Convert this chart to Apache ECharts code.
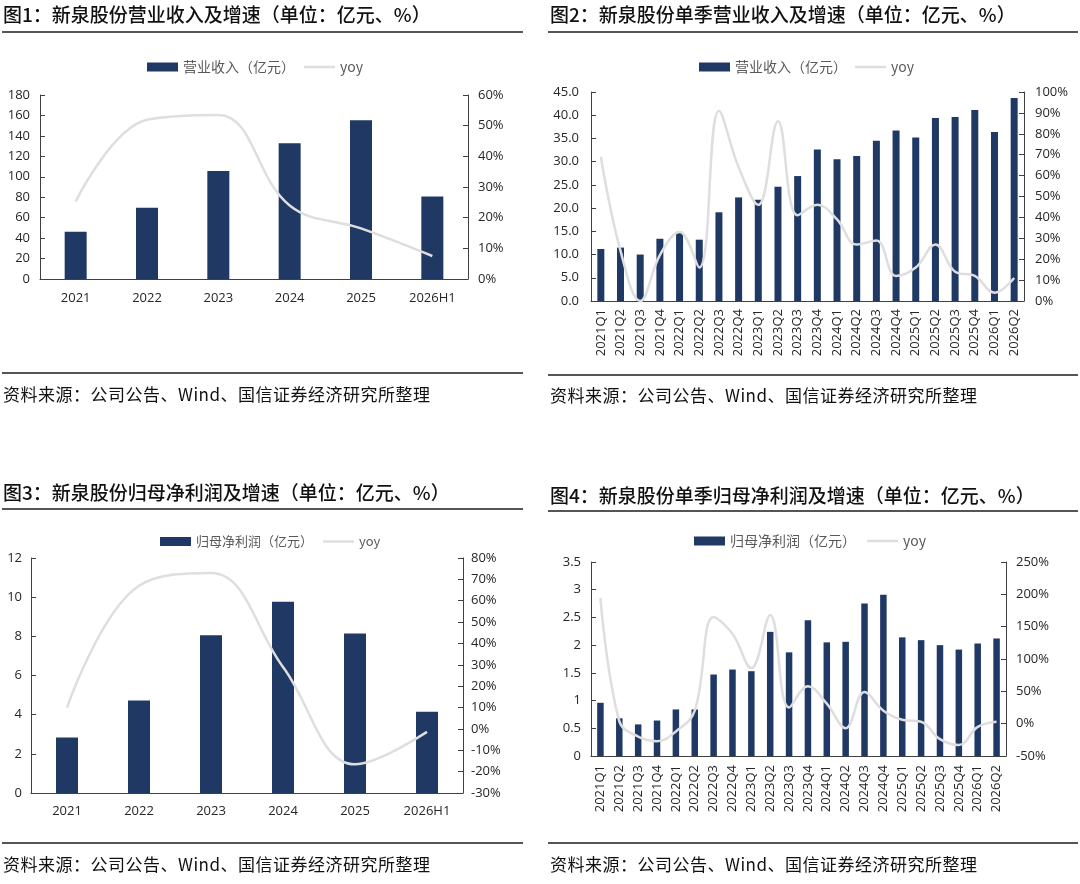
<!DOCTYPE html>
<html>
<head>
<meta charset="utf-8">
<script src="https://cdn.jsdelivr.net/npm/echarts@6/dist/echarts.min.js"></script>
<style>
  html, body { margin: 0; padding: 0; background: #fff; }
  #page { position: relative; width: 1080px; height: 884px; overflow: hidden; }
  #chart { position: absolute; left: 0; top: 0; width: 1080px; height: 884px; }
  .title { position: absolute; font-family: "Noto Sans CJK SC", sans-serif; font-size: 19px; font-weight: 500; color: #111; line-height: 22px; white-space: nowrap; }
  .source { position: absolute; font-family: "Noto Sans CJK SC", sans-serif; font-size: 17px; color: #111; letter-spacing: 0.5px; line-height: 22px; white-space: nowrap; }
  .rule { position: absolute; height: 2px; background: #555; }
</style>
</head>
<body>
<div id="page">
  <div id="chart"></div>

  <div class="title" style="left:3px; top:3px;">图1：新泉股份营业收入及增速（单位：亿元、%）</div>
  <div class="title" style="left:550px; top:3px;">图2：新泉股份单季营业收入及增速（单位：亿元、%）</div>
  <div class="rule" style="left:2px; top:31px; width:521px;"></div>
  <div class="rule" style="left:548px; top:31px; width:530px;"></div>

  <div class="rule" style="left:2px; top:372px; width:521px;"></div>
  <div class="rule" style="left:548px; top:374px; width:530px;"></div>
  <div class="source" style="left:3px; top:383px;">资料来源：公司公告、Wind、国信证券经济研究所整理</div>
  <div class="source" style="left:550px; top:384px;">资料来源：公司公告、Wind、国信证券经济研究所整理</div>

  <div class="title" style="left:3px; top:481px;">图3：新泉股份归母净利润及增速（单位：亿元、%）</div>
  <div class="title" style="left:550px; top:484px;">图4：新泉股份单季归母净利润及增速（单位：亿元、%）</div>
  <div class="rule" style="left:2px; top:508px; width:521px;"></div>
  <div class="rule" style="left:548px; top:510px; width:530px;"></div>

  <div class="rule" style="left:2px; top:842px; width:521px;"></div>
  <div class="rule" style="left:548px; top:842px; width:530px;"></div>
  <div class="source" style="left:3px; top:853px;">资料来源：公司公告、Wind、国信证券经济研究所整理</div>
  <div class="source" style="left:550px; top:853px;">资料来源：公司公告、Wind、国信证券经济研究所整理</div>
</div>

<script>
// 年度数据
const years = ['2021', '2022', '2023', '2024', '2025', '2026H1'];
const revenue = [46.2, 69.7, 105.7, 132.8, 155.2, 80.6];
const revenueYoy = [25.3, 51.9, 53.5, 24.0, 16.5, 7.5];
const profit = [2.84, 4.72, 8.06, 9.77, 8.15, 4.15];
const profitYoy = [10, 67, 73, 29, -16.6, -1.4];

// 单季数据
const quarters = ['2021Q1', '2021Q2', '2021Q3', '2021Q4', '2022Q1', '2022Q2', '2022Q3', '2022Q4',
  '2023Q1', '2023Q2', '2023Q3', '2023Q4', '2024Q1', '2024Q2', '2024Q3', '2024Q4',
  '2025Q1', '2025Q2', '2025Q3', '2025Q4', '2026Q1', '2026Q2'];
const qRevenue = [11.2, 11.5, 10.0, 13.4, 14.9, 13.2, 19.1, 22.3, 21.8, 24.6, 26.9, 32.6,
  30.5, 31.2, 34.5, 36.7, 35.2, 39.4, 39.6, 41.1, 36.4, 43.7];
const qRevenueYoy = [69, 24, 0, 22, 33, 16, 91, 64, 46, 86, 41, 46, 39, 27, 29, 12, 16, 27, 14, 12, 4, 11];
const qProfit = [0.96, 0.68, 0.57, 0.64, 0.84, 0.84, 1.47, 1.56, 1.53, 2.24, 1.87, 2.45,
  2.05, 2.06, 2.75, 2.91, 2.14, 2.09, 2.00, 1.92, 2.03, 2.12];
const qProfitYoy = [194, 4, -20, -27, -12, 20, 165, 139, 86, 168, 25, 58, 31, -7, 49, 20, 6, 3, -24, -33, -5, 3];

// 刻度
const ticks = [
  { min: 0, max: 180, interval: 20 },   // 图1 左
  { min: 0, max: 60, interval: 10 },    // 图1 右
  { min: 0, max: 45, interval: 5 },     // 图2 左
  { min: 0, max: 100, interval: 10 },   // 图2 右
  { min: 0, max: 12, interval: 2 },     // 图3 左
  { min: -30, max: 80, interval: 10 },  // 图3 右
  { min: 0, max: 3.5, interval: 0.5 },  // 图4 左
  { min: -50, max: 250, interval: 50 }  // 图4 右
];

const BAR = '#1f3864';
const LINE = '#dedede';
const AXIS = '#404040';
const FONT = 'Open Sans';

const chart = echarts.init(document.getElementById('chart'));

function xAxis(grid, data, rotate, margin) {
  return {
    type: 'category', gridIndex: grid, data: data,
    axisLine: { lineStyle: { color: AXIS, width: 1 } },
    axisTick: { show: false },
    axisLabel: { color: '#262626', fontSize: 13, fontFamily: FONT, rotate: rotate, margin: margin, interval: 0 }
  };
}

function yAxis(grid, t, pos, fmt, margin) {
  return {
    type: 'value', gridIndex: grid, position: pos,
    min: t.min, max: t.max, interval: t.interval,
    splitLine: { show: false },
    axisLine: { show: true, lineStyle: { color: AXIS, width: 1 } },
    axisTick: { show: true, inside: true, length: 5, lineStyle: { color: AXIS } },
    axisLabel: { color: '#262626', fontSize: 13, fontFamily: FONT, margin: margin, formatter: fmt }
  };
}

const pct = '{value}%';
const fixed1 = function (v) { return v.toFixed(1); };

// 柱图图例与 yoy 图例分开摆放，yoy 只画一条细线
function barLegend(left, top, name, size) {
  return {
    left: left, top: top, itemWidth: 31, itemHeight: 9,
    data: [{ name: name, icon: 'rect' }],
    textStyle: { color: '#595959', fontSize: size, fontFamily: 'Noto Sans CJK SC' }
  };
}

function yoyLegend(left, top, size) {
  return {
    left: left, top: top, itemWidth: 31, itemHeight: 2.5,
    data: [{ name: 'yoy', icon: 'rect', itemStyle: { color: LINE } }],
    textStyle: { color: '#595959', fontSize: size, fontFamily: 'Noto Sans CJK SC' }
  };
}

function bars(name, axisIdx, data, width) {
  return {
    name: name, type: 'bar', xAxisIndex: axisIdx, yAxisIndex: axisIdx * 2,
    data: data, barWidth: width, itemStyle: { color: BAR }
  };
}

function yoyLine(axisIdx, data) {
  return {
    name: 'yoy', type: 'line', xAxisIndex: axisIdx, yAxisIndex: axisIdx * 2 + 1,
    data: data, smooth: 0.4, symbol: 'none',
    lineStyle: { color: LINE, width: 2.5 }, itemStyle: { color: LINE }, z: 5
  };
}

const option = {
  animation: false,
  grid: [
    { left: 40, top: 95, width: 428, height: 184 },
    { left: 591, top: 92, width: 433, height: 209 },
    { left: 31, top: 558, width: 432, height: 235 },
    { left: 591, top: 562, width: 415, height: 194 }
  ],
  legend: [
    barLegend(142, 55, '营业收入（亿元）', 14),
    yoyLegend(299, 55, 14),
    barLegend(694, 55, '营业收入（亿元）', 14),
    yoyLegend(850, 55, 14),
    barLegend(155, 530, '归母净利润（亿元）', 13),
    yoyLegend(318, 530, 13),
    barLegend(689, 529, '归母净利润（亿元）', 14),
    yoyLegend(862, 529, 14)
  ],
  xAxis: [
    xAxis(0, years, 0, 13),
    xAxis(1, quarters, 90, 8),
    xAxis(2, years, 0, 12),
    xAxis(3, quarters, 90, 9)
  ],
  yAxis: [
    yAxis(0, ticks[0], 'left', null, 10),
    yAxis(0, ticks[1], 'right', pct, 10),
    yAxis(1, ticks[2], 'left', fixed1, 12),
    yAxis(1, ticks[3], 'right', pct, 11),
    yAxis(2, ticks[4], 'left', null, 9),
    yAxis(2, ticks[5], 'right', pct, 8),
    yAxis(3, ticks[6], 'left', null, 10),
    yAxis(3, ticks[7], 'right', pct, 10)
  ],
  series: [
    bars('营业收入（亿元）', 0, revenue, 22),
    yoyLine(0, revenueYoy),
    bars('营业收入（亿元）', 1, qRevenue, 7),
    yoyLine(1, qRevenueYoy),
    bars('归母净利润（亿元）', 2, profit, 22),
    yoyLine(2, profitYoy),
    bars('归母净利润（亿元）', 3, qProfit, 6.5),
    yoyLine(3, qProfitYoy)
  ]
};

chart.setOption(option);
</script>
</body>
</html>
